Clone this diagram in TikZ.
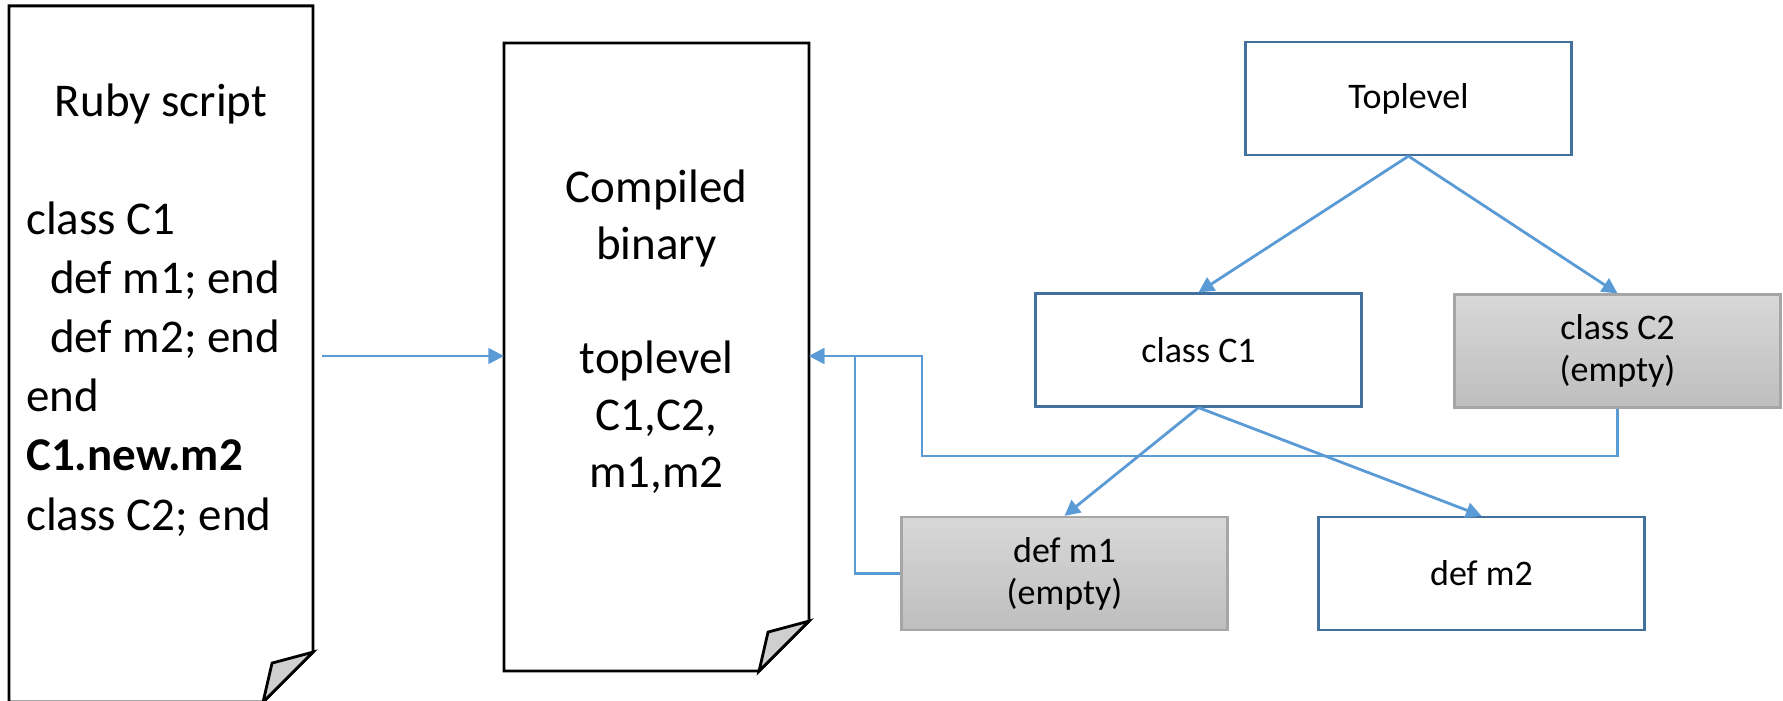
\documentclass[tikz,border=0pt]{standalone}
\usepackage{fontspec}
\setmainfont{Carlito}
\usepackage{tikz}
\usetikzlibrary{arrows.meta,calc,positioning}

\definecolor{linkblue}{HTML}{5B9BD5}
\definecolor{boxblue}{HTML}{41719C}
\definecolor{emptytop}{HTML}{D8D8D8}
\definecolor{emptybot}{HTML}{BEBEBE}
\definecolor{emptyline}{HTML}{A6A6A6}
\definecolor{flapgray}{HTML}{CFCFCF}

\begin{document}
\begin{tikzpicture}[x=0.025cm, y=-0.025cm]
		\tikzstyle{Page}	= [draw=none, minimum width=7.6cm, inner sep=0pt, outer sep=0pt]
		\tikzstyle{PageLine}	= [draw=black, line width=2pt, line join=miter]
		\tikzstyle{Flap}	= [PageLine, fill=flapgray]
		\tikzstyle{Box}		= [rectangle, draw=boxblue, line width=1.6pt, fill=white, minimum width=8.15cm, minimum height=2.825cm, align=center, inner sep=0pt, font=\fontsize{25.6}{30}\selectfont]
		\tikzstyle{Empty}	= [draw=emptyline, top color=emptytop, bottom color=emptybot]
		\tikzstyle{Link}	= [draw=linkblue, line width=2pt, -{Triangle[length=11pt,width=11pt]}]
		\tikzstyle{Big}		= [font=\fontsize{33.4}{42}\selectfont, inner sep=0pt]

		\useasboundingbox (0,0) rectangle (1783,701);

		% pages with folded corner
		\node (script) at (161,354) [Page, minimum height=17.4cm] {};
		\node (binary) at (656.5,357) [Page, minimum width=7.625cm, minimum height=15.7cm] {};
		\foreach \p in {script, binary} {
			\draw [PageLine] (\p.south west) -- (\p.north west) -- (\p.north east) -- ($(\p.south east)+(0,-50)$) -- ($(\p.south east)+(-50,0)$) -- cycle;
			\draw [Flap] ($(\p.south east)+(0,-50)$) -- ($(\p.south east)+(-41,-39)$) -- ($(\p.south east)+(-50,0)$) -- cycle;
		}

		\node (title) at (161,117) [Big, anchor=base] {Ruby script};
		\foreach \x/\y/\t [count=\i] in {26/235/class C1, 50/294/def m1; end, 50/353/def m2; end, 26/412/end, 26/471/\textbf{C1.new.m2}, 26/530/class C2; end}
			\node (code\i) at (\x,\y) [Big, anchor=base west] {\t};

		\node (bin1) at (656.5,203) [Big, anchor=base] {Compiled};
		\node (bin2) at (656.5,260) [Big, anchor=base] {binary};
		\node (bin3) at (656.5,374) [Big, anchor=base] {toplevel};
		\node (bin4) at (656.5,431) [Big, anchor=base] {C1,C2,};
		\node (bin5) at (656.5,488) [Big, anchor=base] {m1,m2};

		% tree
		\node (top) at (1408.5,98.5) [Box] {Toplevel};
		\node (c1) at (1198.5,350) [Box] {class C1};
		\node (c2) at (1617.5,351) [Box, Empty] {class C2\\(empty)};
		\node (m1) at (1064.5,573.5) [Box, Empty] {def m1\\(empty)};
		\node (m2) at (1481.5,573.5) [Box] {def m2};

		\coordinate (out) at (322,356);
		\coordinate (back) at (809,356);
		\coordinate (turn1) at (922,456);
		\coordinate (turn2) at (855,356);

		\draw [Link] (out) to (out -| binary.west);
		\draw [Link] (top.south) to (c1.north);
		\draw [Link] (top.south) to (c2.north);
		\draw [Link] (c1.south) to (m1.north);
		\draw [Link] (c1.south) to (m2.north);
		\draw [Link] (c2.south) |- (turn1) |- (back);
		\draw [Link] (m1.west) -| (turn2) -- (back);
\end{tikzpicture}
\end{document}
